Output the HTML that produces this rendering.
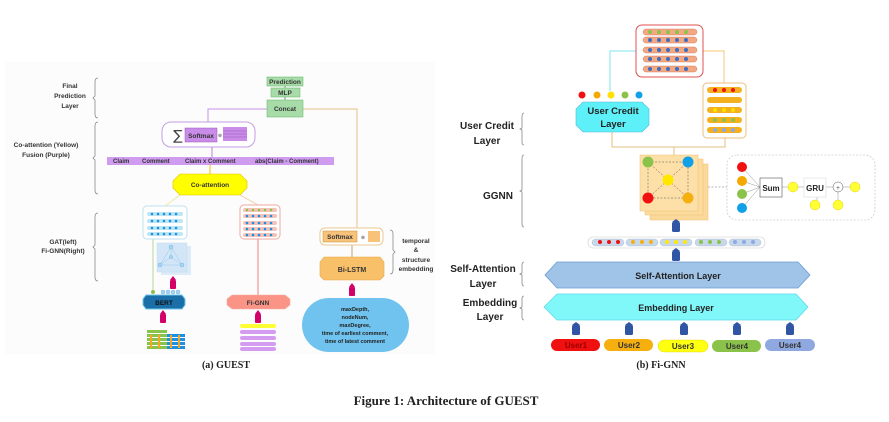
<!DOCTYPE html>
<html><head><meta charset="utf-8"><style>
html,body{margin:0;padding:0;background:#fff;width:889px;height:422px;overflow:hidden}
svg{display:block}
.s{font-family:"Liberation Sans",sans-serif;font-weight:bold}
.t{font-family:"Liberation Serif",serif;font-weight:bold}
</style></head><body>
<svg width="889" height="422" viewBox="0 0 889 422" xmlns="http://www.w3.org/2000/svg">
<defs>
<g id="pin"><rect x="-3" y="-4" width="6" height="9" rx="1" fill="#d4006a"/><polygon points="-3,-4 0,-8 3,-4" fill="#d4006a"/></g>
<g id="bpin"><rect x="-4" y="-3" width="8" height="10" rx="1.5" fill="#2f55a4"/><polygon points="-4,-3 0,-6 4,-3" fill="#2f55a4"/></g>
</defs>
<rect x="5" y="62" width="430" height="292" fill="#fcfcfc"/>

<!-- LEFT PANEL -->
<g class="s" font-size="6.5" fill="#333" text-anchor="middle">
<text x="70" y="88">Final</text><text x="70" y="98">Prediction</text><text x="70" y="108">Layer</text>
<text x="46" y="147">Co-attention (Yellow)</text><text x="46" y="157">Fusion (Purple)</text>
<text x="63" y="244">GAT(left)</text><text x="63" y="253">Fi-GNN(Right)</text>
<text x="416" y="243">temporal</text><text x="416" y="252">&amp;</text><text x="416" y="262">structure</text><text x="416" y="271">embedding</text>
</g>
<g fill="none" stroke="#888" stroke-width="0.8">
<path d="M98,78 q-3,0 -3,4 v14 l-2,2 l2,2 v14 q0,4 3,4"/>
<path d="M98,122 q-3,0 -3,4 v30 l-2,2 l2,2 v30 q0,4 3,4"/>
<path d="M98,213 q-3,0 -3,4 v28 l-2,2 l2,2 v28 q0,4 3,4"/>
<path d="M390,230 q3,0 3,4 v16 l2,2 l-2,2 v16 q0,4 -3,4"/>
</g>
<path d="M267,109 H208 V122" stroke="#c792e6" fill="none"/>
<path d="M303,109 H357 V228" stroke="#e8c08a" fill="none"/>
<line x1="285" y1="85" x2="285" y2="100" stroke="#888"/>
<line x1="212" y1="147" x2="212" y2="157" stroke="#b884d6"/>
<line x1="210" y1="165" x2="210" y2="174" stroke="#f2c200"/>
<line x1="180" y1="195" x2="165" y2="206" stroke="#f1e6a8"/>
<line x1="240" y1="195" x2="258" y2="205" stroke="#f1d0a8"/>
<line x1="153" y1="239" x2="153" y2="291" stroke="#b7d59c"/>
<line x1="258" y1="239" x2="258" y2="295" stroke="#f08080"/>
<line x1="352" y1="245" x2="352" y2="257" stroke="#c8a070"/>
<rect x="267" y="77" width="36" height="9" fill="#a7dba8" stroke="#6fbf73" stroke-width="0.6"/>
<text x="285" y="84" class="s" font-size="6.5" text-anchor="middle" fill="#333">Prediction</text>
<rect x="271" y="88" width="29" height="9" fill="#a7dba8" stroke="#6fbf73" stroke-width="0.6"/>
<text x="285" y="95" class="s" font-size="6.5" text-anchor="middle" fill="#333">MLP</text>
<rect x="267" y="100" width="36" height="17" fill="#a7dba8" stroke="#6fbf73" stroke-width="0.6"/>
<text x="285" y="111" class="s" font-size="6.5" text-anchor="middle" fill="#333">Concat</text>
<rect x="162" y="122" width="93" height="25" rx="9" fill="#fff" stroke="#c59ce0"/>
<text x="178" y="140" font-size="14" text-anchor="middle" fill="#444" font-family="DejaVu Sans">∑</text>
<rect x="185" y="128" width="32" height="14" fill="#c98ce8" stroke="#9b59b6" stroke-width="0.5"/>
<text x="201" y="138" class="s" font-size="6.5" text-anchor="middle" fill="#333">Softmax</text>
<text x="220" y="137" font-size="5" text-anchor="middle" fill="#555">⊗</text>
<rect x="223" y="127" width="24" height="14" fill="#c98ce8"/>
<g stroke="#9b59b6" stroke-width="0.5"><line x1="223" y1="131" x2="247" y2="131"/><line x1="223" y1="134" x2="247" y2="134"/><line x1="223" y1="137" x2="247" y2="137"/></g>
<rect x="107" y="157" width="227" height="8" fill="#d09cf0"/>
<g class="s" font-size="6" fill="#333"><text x="113" y="163">Claim</text><text x="142" y="163">Comment</text><text x="185" y="163">Claim x Comment</text><text x="255" y="163">abs(Claim - Comment)</text></g>
<polygon points="180,174 240,174 247,181 247,188 240,195 180,195 173,188 173,181" fill="#ffff00" stroke="#e0c000" stroke-width="0.6"/>
<text x="210" y="187" class="s" font-size="6.5" text-anchor="middle" fill="#333">Co-attention</text>
<rect x="143" y="206" width="44" height="33" rx="4" fill="#fff" stroke="#bfe0f0"/>
<g fill="#bde6f7"><rect x="147" y="212" width="36" height="4" rx="2"/><rect x="147" y="219" width="36" height="4" rx="2"/><rect x="147" y="226" width="36" height="4" rx="2"/><rect x="147" y="232" width="36" height="4" rx="2"/></g>
<g fill="#1e90e0">
<circle cx="152" cy="214" r="1.3"/><circle cx="158" cy="214" r="1.3"/><circle cx="164" cy="214" r="1.3"/><circle cx="170" cy="214" r="1.3"/><circle cx="176" cy="214" r="1.3"/>
<circle cx="152" cy="221" r="1.3"/><circle cx="158" cy="221" r="1.3"/><circle cx="164" cy="221" r="1.3"/><circle cx="170" cy="221" r="1.3"/><circle cx="176" cy="221" r="1.3"/>
<circle cx="152" cy="228" r="1.3"/><circle cx="158" cy="228" r="1.3"/><circle cx="164" cy="228" r="1.3"/><circle cx="170" cy="228" r="1.3"/><circle cx="176" cy="228" r="1.3"/>
<circle cx="152" cy="234" r="1.3"/><circle cx="158" cy="234" r="1.3"/><circle cx="164" cy="234" r="1.3"/><circle cx="170" cy="234" r="1.3"/><circle cx="176" cy="234" r="1.3"/>
</g>
<rect x="161" y="246" width="30" height="29" fill="#dcebf8"/>
<rect x="157" y="243" width="30" height="29" fill="#d2e6f7" stroke="#c0daf0" stroke-width="0.5"/>
<g stroke="#9cc6e8" stroke-width="0.5" fill="none"><polygon points="171,247 160,265 182,265"/><line x1="171" y1="257" x2="171" y2="247"/><line x1="171" y1="257" x2="160" y2="265"/><line x1="171" y1="257" x2="182" y2="265"/></g>
<g fill="#a8d4f2" stroke="#6aaee0" stroke-width="0.4"><circle cx="171" cy="247" r="2"/><circle cx="171" cy="257" r="1.6"/><circle cx="160" cy="265" r="2"/><circle cx="182" cy="265" r="2"/></g>
<use href="#pin" x="173" y="284"/>
<circle cx="153" cy="292" r="2" fill="#8bc34a"/>
<g fill="#a8d4f2" stroke="#6aaee0" stroke-width="0.4"><circle cx="163" cy="292" r="2"/><circle cx="168" cy="292" r="2"/><circle cx="173" cy="292" r="2"/><circle cx="178" cy="292" r="2"/></g>
<polygon points="146,295 182,295 185,299 185,305 182,309 146,309 143,305 143,299" fill="#1b6fa8" stroke="#6ec6e8" stroke-width="1"/>
<text x="164" y="305" class="s" font-size="6.5" text-anchor="middle" fill="#111">BERT</text>
<use href="#pin" x="163" y="318"/>
<g><rect x="147" y="330" width="20" height="3" fill="#8bc34a"/>
<rect x="147" y="334" width="38" height="3" fill="#8bc34a"/><rect x="167" y="334" width="18" height="3" fill="#1e90e0"/>
<rect x="147" y="338" width="38" height="3" fill="#8bc34a"/><rect x="167" y="338" width="18" height="3" fill="#1e90e0"/>
<rect x="147" y="342" width="38" height="3" fill="#8bc34a"/><rect x="167" y="342" width="18" height="3" fill="#1e90e0"/>
<rect x="147" y="346" width="38" height="3" fill="#8bc34a"/><rect x="167" y="346" width="18" height="3" fill="#1e90e0"/>
<g fill="#f5a623"><rect x="150" y="335" width="2" height="13"/><rect x="158" y="335" width="2" height="13"/><rect x="170" y="335" width="2" height="13"/><rect x="178" y="335" width="2" height="13"/></g></g>
<rect x="240" y="205" width="40" height="34" rx="4" fill="#fff" stroke="#f0a8a0"/>
<g fill="#f6c2b8"><rect x="243" y="208" width="34" height="4" rx="2"/><rect x="243" y="214" width="34" height="4" rx="2"/><rect x="243" y="221" width="34" height="4" rx="2"/><rect x="243" y="227" width="34" height="4" rx="2"/><rect x="243" y="233" width="34" height="4" rx="2"/></g>
<g fill="#8bc34a"><circle cx="247" cy="210" r="1.3"/><circle cx="253" cy="210" r="1.3"/><circle cx="259" cy="210" r="1.3"/><circle cx="265" cy="210" r="1.3"/><circle cx="271" cy="210" r="1.3"/></g>
<g fill="#1e90e0">
<circle cx="247" cy="216" r="1.3"/><circle cx="253" cy="216" r="1.3"/><circle cx="259" cy="216" r="1.3"/><circle cx="265" cy="216" r="1.3"/><circle cx="271" cy="216" r="1.3"/>
<circle cx="247" cy="223" r="1.3"/><circle cx="253" cy="223" r="1.3"/><circle cx="259" cy="223" r="1.3"/><circle cx="265" cy="223" r="1.3"/><circle cx="271" cy="223" r="1.3"/>
<circle cx="247" cy="229" r="1.3"/><circle cx="253" cy="229" r="1.3"/><circle cx="259" cy="229" r="1.3"/><circle cx="265" cy="229" r="1.3"/><circle cx="271" cy="229" r="1.3"/>
<circle cx="247" cy="235" r="1.3"/><circle cx="253" cy="235" r="1.3"/><circle cx="259" cy="235" r="1.3"/><circle cx="265" cy="235" r="1.3"/><circle cx="271" cy="235" r="1.3"/>
</g>
<polygon points="232,295 285,295 290,299 290,305 285,309 232,309 227,305 227,299" fill="#f99486" stroke="#f7b0a6" stroke-width="0.6"/>
<text x="258" y="305" class="s" font-size="6.5" text-anchor="middle" fill="#333">Fi-GNN</text>
<use href="#pin" x="258" y="318"/>
<rect x="240" y="324" width="36" height="4" rx="2" fill="#ffff33"/>
<g fill="#d49cf0"><rect x="240" y="330" width="36" height="4" rx="2"/><rect x="240" y="336" width="36" height="4" rx="2"/><rect x="240" y="342" width="36" height="4" rx="2"/><rect x="240" y="347" width="36" height="4" rx="2"/></g>
<rect x="320" y="228" width="63" height="17" rx="5" fill="#fff" stroke="#e8c890"/>
<rect x="323" y="231" width="34" height="11" fill="#f9c27a" stroke="#c8902a" stroke-width="0.5"/>
<text x="340" y="239" class="s" font-size="6.5" text-anchor="middle" fill="#333">Softmax</text>
<text x="363" y="239" font-size="5" text-anchor="middle" fill="#555">⊗</text>
<rect x="368" y="231" width="12" height="11" fill="#f9c27a"/>
<polygon points="324,257 380,257 384,262 384,276 380,280 324,280 320,276 320,262" fill="#f9c06a" stroke="#e8a848" stroke-width="0.6"/>
<text x="352" y="272" class="s" font-size="7" text-anchor="middle" fill="#333">Bi-LSTM</text>
<use href="#pin" x="352" y="291"/>
<rect x="302" y="298" width="107" height="54" rx="27" fill="#6fc3ee"/>
<g class="s" font-size="5.5" text-anchor="middle" fill="#222"><text x="355" y="311">maxDepth,</text><text x="355" y="319">nodeNum,</text><text x="355" y="327">maxDegree,</text><text x="355" y="335">time of earliest comment,</text><text x="355" y="343">time of latest comment</text></g>

<!-- RIGHT PANEL -->
<g class="s" font-size="10" fill="#222" text-anchor="middle">
<text x="487" y="129">User Credit</text><text x="487" y="144">Layer</text>
<text x="498" y="199">GGNN</text>
<text x="483" y="272">Self-Attention</text><text x="483" y="287">Layer</text>
<text x="490" y="306">Embedding</text><text x="490" y="320">Layer</text>
</g>
<g fill="none" stroke="#888" stroke-width="0.8">
<path d="M524,113 q-2,0 -2,4 v11 l-2,1 l2,1 v12 q0,3 2,3"/>
<path d="M524,155 q-2,0 -2,4 v31 l-2,1 l2,1 v32 q0,3 2,3"/>
<path d="M524,262 q-2,0 -2,3 v8 l-2,1 l2,1 v8 q0,3 2,3"/>
<path d="M524,296 q-2,0 -2,3 v8 l-2,1 l2,1 v8 q0,3 2,3"/>
</g>
<path d="M610,91 V51 H636" stroke="#7fe6f0" fill="none"/>
<path d="M703,51 H724 V83" stroke="#f0c870" fill="none"/>
<path d="M612,132 V147 H725 V138" stroke="#e0c080" fill="none"/>
<line x1="674" y1="147" x2="674" y2="155" stroke="#e0c080"/>
<rect x="636" y="25" width="67" height="52" rx="6" fill="#fff" stroke="#e05050"/>
<g fill="#f2a882" stroke="#d07050" stroke-width="0.4"><rect x="643" y="29" width="54" height="6" rx="3"/><rect x="643" y="37" width="54" height="6" rx="3"/><rect x="643" y="47" width="54" height="6" rx="3"/><rect x="643" y="56" width="54" height="6" rx="3"/><rect x="643" y="66" width="54" height="6" rx="3"/></g>
<g fill="#8bc34a"><circle cx="650" cy="32" r="2"/><circle cx="659" cy="32" r="2"/><circle cx="668" cy="32" r="2"/><circle cx="677" cy="32" r="2"/><circle cx="686" cy="32" r="2"/></g>
<g fill="#3c6fc4">
<circle cx="650" cy="40" r="2"/><circle cx="659" cy="40" r="2"/><circle cx="668" cy="40" r="2"/><circle cx="677" cy="40" r="2"/><circle cx="686" cy="40" r="2"/>
<circle cx="650" cy="50" r="2"/><circle cx="659" cy="50" r="2"/><circle cx="668" cy="50" r="2"/><circle cx="677" cy="50" r="2"/><circle cx="686" cy="50" r="2"/>
<circle cx="650" cy="59" r="2"/><circle cx="659" cy="59" r="2"/><circle cx="668" cy="59" r="2"/><circle cx="677" cy="59" r="2"/><circle cx="686" cy="59" r="2"/>
<circle cx="650" cy="69" r="2"/><circle cx="659" cy="69" r="2"/><circle cx="668" cy="69" r="2"/><circle cx="677" cy="69" r="2"/><circle cx="686" cy="69" r="2"/>
</g>
<circle cx="582" cy="95" r="3.5" fill="#f01010"/><circle cx="597" cy="95" r="3.5" fill="#f5a800"/><circle cx="611" cy="95" r="3.5" fill="#ffe000"/><circle cx="625" cy="95" r="3.5" fill="#8bc34a"/><circle cx="639" cy="95" r="3.5" fill="#10a0e8"/>
<polygon points="583,102 642,102 649,109 649,125 642,132 583,132 576,125 576,109" fill="#5ef0f8" stroke="#50b8d8" stroke-width="0.6"/>
<text x="613" y="114" class="s" font-size="9.5" text-anchor="middle" fill="#222">User Credit</text>
<text x="613" y="127" class="s" font-size="9.5" text-anchor="middle" fill="#222">Layer</text>
<rect x="703" y="83" width="43" height="55" rx="4" fill="#fff" stroke="#e8c080"/>
<g fill="#f5b020"><rect x="707" y="87" width="35" height="6" rx="3"/><rect x="707" y="97" width="35" height="6" rx="3"/><rect x="707" y="107" width="35" height="6" rx="3"/><rect x="707" y="117" width="35" height="6" rx="3"/><rect x="707" y="127" width="35" height="6" rx="3"/></g>
<g fill="#f01010"><circle cx="715" cy="90" r="2"/><circle cx="724" cy="90" r="2"/><circle cx="733" cy="90" r="2"/></g>
<g fill="#ffe000"><circle cx="715" cy="110" r="2"/><circle cx="724" cy="110" r="2"/><circle cx="733" cy="110" r="2"/></g>
<g fill="#8bc34a"><circle cx="715" cy="120" r="2"/><circle cx="724" cy="120" r="2"/><circle cx="733" cy="120" r="2"/></g>
<g fill="#8fa8e0"><circle cx="715" cy="130" r="2"/><circle cx="724" cy="130" r="2"/><circle cx="733" cy="130" r="2"/></g>
<rect x="650" y="164" width="58" height="56" fill="#fad99a" stroke="#f0c070" stroke-width="0.5"/>
<rect x="645" y="159" width="58" height="56" fill="#fbdb9e" stroke="#f0c070" stroke-width="0.5"/>
<rect x="640" y="155" width="58" height="56" fill="#fde0a8" stroke="#f0c070" stroke-width="0.5"/>
<g stroke="#555" stroke-width="0.5" stroke-dasharray="2,1.5" fill="none"><rect x="648" y="162" width="40" height="36"/><line x1="648" y1="162" x2="688" y2="198"/><line x1="688" y1="162" x2="648" y2="198"/></g>
<circle cx="648" cy="162" r="5.5" fill="#8bc34a"/><circle cx="688" cy="162" r="5.5" fill="#10a0e8"/><circle cx="668" cy="180" r="5.5" fill="#ffe800"/><circle cx="648" cy="198" r="5.5" fill="#f01010"/><circle cx="688" cy="198" r="5.5" fill="#f5b010"/>
<line x1="708" y1="187" x2="727" y2="187" stroke="#777" stroke-width="0.6" stroke-dasharray="2,1.5"/>
<rect x="727" y="155" width="148" height="65" rx="10" fill="#fff" stroke="#bbb" stroke-width="0.6" stroke-dasharray="2,1.5"/>
<g stroke="#777" stroke-width="0.4"><line x1="742" y1="167" x2="760" y2="187"/><line x1="742" y1="181" x2="760" y2="187"/><line x1="742" y1="194" x2="760" y2="187"/><line x1="742" y1="208" x2="760" y2="187"/><line x1="780" y1="187" x2="812" y2="187"/><line x1="823" y1="187" x2="856" y2="187"/><line x1="817" y1="195" x2="817" y2="200"/><line x1="838" y1="192" x2="838" y2="202"/></g>
<circle cx="742" cy="167" r="5" fill="#f01010"/><circle cx="742" cy="181" r="5" fill="#f5a800"/><circle cx="742" cy="194" r="5" fill="#8bc34a"/><circle cx="742" cy="208" r="5" fill="#10a0e8"/>
<rect x="760" y="178" width="22" height="19" fill="#fff" stroke="#555" stroke-width="0.6"/>
<text x="771" y="191" class="s" font-size="8" text-anchor="middle" fill="#222">Sum</text>
<circle cx="793" cy="187" r="5" fill="#ffff33" stroke="#e0c000" stroke-width="0.4"/>
<rect x="804" y="178" width="22" height="19" fill="#fff" stroke="#ddd" stroke-width="0.6"/>
<text x="815" y="191" class="s" font-size="8" text-anchor="middle" fill="#222">GRU</text>
<circle cx="838" cy="187" r="5" fill="#fff" stroke="#555" stroke-width="0.5"/>
<text x="838" y="190" font-size="7" text-anchor="middle" fill="#222">+</text>
<circle cx="855" cy="187" r="5" fill="#ffff33" stroke="#e0c000" stroke-width="0.4"/>
<circle cx="815" cy="205" r="5" fill="#ffff33" stroke="#e0c000" stroke-width="0.4"/>
<circle cx="838" cy="205" r="5" fill="#ffff33" stroke="#e0c000" stroke-width="0.4"/>
<use href="#bpin" x="676" y="225"/>
<rect x="588" y="237" width="177" height="11" rx="5" fill="#fff" stroke="#ccc" stroke-width="0.6"/>
<g fill="#c8d8ec" stroke="#9ab" stroke-width="0.3"><rect x="592" y="239" width="32" height="7" rx="3.5"/><rect x="626" y="239" width="32" height="7" rx="3.5"/><rect x="660" y="239" width="32" height="7" rx="3.5"/><rect x="695" y="239" width="32" height="7" rx="3.5"/><rect x="729" y="239" width="32" height="7" rx="3.5"/></g>
<g fill="#f01010"><circle cx="600" cy="242" r="2"/><circle cx="609" cy="242" r="2"/><circle cx="618" cy="242" r="2"/></g>
<g fill="#f5b010"><circle cx="633" cy="242" r="2"/><circle cx="642" cy="242" r="2"/><circle cx="651" cy="242" r="2"/></g>
<g fill="#ffe800"><circle cx="667" cy="242" r="2"/><circle cx="676" cy="242" r="2"/><circle cx="685" cy="242" r="2"/></g>
<g fill="#8bc34a"><circle cx="701" cy="242" r="2"/><circle cx="710" cy="242" r="2"/><circle cx="719" cy="242" r="2"/></g>
<g fill="#8fa8e0"><circle cx="735" cy="242" r="2"/><circle cx="744" cy="242" r="2"/><circle cx="753" cy="242" r="2"/></g>
<use href="#bpin" x="676" y="254"/>
<polygon points="557,262 798,262 810,275 798,288 557,288 545,275" fill="#a0c4e8" stroke="#6a9ad0" stroke-width="0.8"/>
<text x="678" y="279" class="s" font-size="9" text-anchor="middle" fill="#222">Self-Attention Layer</text>
<polygon points="557,294 796,294 808,307 796,320 557,320 544,307" fill="#80f8fa" stroke="#60d8e8" stroke-width="0.8"/>
<text x="676" y="311" class="s" font-size="9" text-anchor="middle" fill="#222">Embedding Layer</text>
<use href="#bpin" x="576" y="328"/><use href="#bpin" x="629" y="328"/><use href="#bpin" x="684" y="328"/><use href="#bpin" x="737" y="328"/><use href="#bpin" x="790" y="328"/>
<rect x="551" y="339" width="49" height="12" rx="6" fill="#f01010"/><text x="576" y="348" class="s" font-size="8" text-anchor="middle" fill="#900">User1</text>
<rect x="604" y="339" width="49" height="12" rx="6" fill="#f5b010"/><text x="629" y="348" class="s" font-size="8" text-anchor="middle" fill="#333">User2</text>
<rect x="658" y="340" width="50" height="12" rx="6" fill="#ffff10" stroke="#e0d000" stroke-width="0.4"/><text x="683" y="349" class="s" font-size="8" text-anchor="middle" fill="#333">User3</text>
<rect x="712" y="340" width="49" height="12" rx="6" fill="#8bc34a"/><text x="737" y="349" class="s" font-size="8" text-anchor="middle" fill="#333">User4</text>
<rect x="765" y="339" width="50" height="12" rx="6" fill="#8fa8e0"/><text x="790" y="348" class="s" font-size="8" text-anchor="middle" fill="#333">User4</text>

<text x="226" y="368" class="t" font-size="10" text-anchor="middle" fill="#222">(a) GUEST</text>
<text x="661" y="368" class="t" font-size="10" text-anchor="middle" fill="#222">(b) Fi-GNN</text>
<text x="446" y="405" class="t" font-size="13" text-anchor="middle" fill="#222">Figure 1: Architecture of GUEST</text>
</svg>
</body></html>
